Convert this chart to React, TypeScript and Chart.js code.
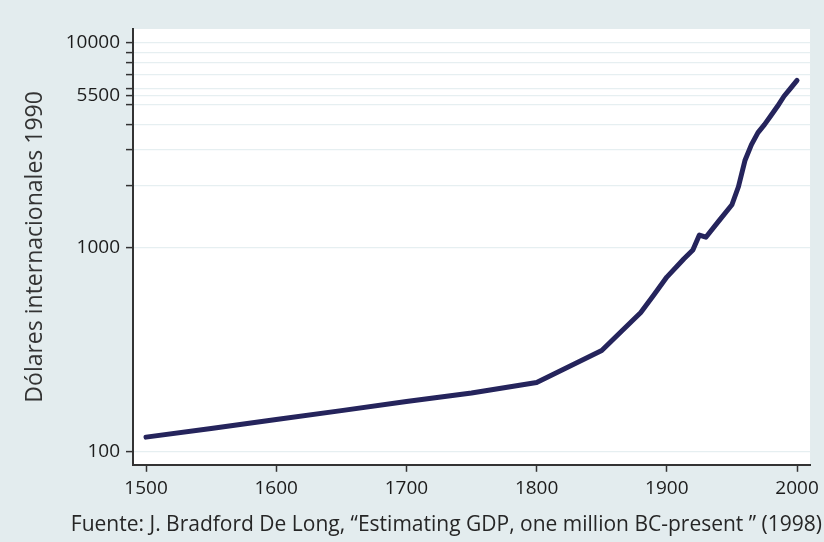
import { useEffect, useRef } from "react";
import { Chart, registerables } from "chart.js";

Chart.register(...registerables);

const years = [1500, 1550, 1600, 1650, 1700, 1750, 1800, 1850, 1880, 1890, 1900, 1913, 1920, 1925, 1930, 1940, 1950, 1955, 1960, 1965, 1970, 1975, 1980, 1985, 1990, 1995, 2000];
const gdp = [118, 130, 144, 159, 176, 194, 218, 313, 480, 585, 715, 877, 970, 1148, 1120, 1346, 1614, 1977, 2655, 3177, 3638, 3980, 4412, 4890, 5475, 5986, 6547];
const xTicks = [1500, 1600, 1700, 1800, 1900, 2000];
const yTicks = [100, 1000, 2000, 3000, 4000, 5000, 5500, 6000, 7000, 8000, 9000, 10000];
const yLabels = [100, 1000, 5500, 10000];
const yTitle = "Dólares internacionales 1990";
const caption = "Fuente: J. Bradford De Long, “Estimating GDP, one million BC-present ” (1998)";

const BG = "#e3ecee";
const FONT = "'Open Sans', 'DejaVu Sans', sans-serif";

export default function App() {
  const ref = useRef<HTMLCanvasElement | null>(null);

  useEffect(() => {
    if (!ref.current) return;
    const plotBg = {
      id: "plotBg",
      beforeDraw(chart: any) {
        const { ctx, chartArea } = chart;
        ctx.save();
        ctx.fillStyle = "#ffffff";
        ctx.fillRect(chartArea.left, chartArea.top, chartArea.right - chartArea.left, chartArea.bottom - chartArea.top);
        ctx.restore();
      },
    };
    const chart = new Chart(ref.current, {
      type: "line",
      data: {
        datasets: [
          {
            data: years.map((y, i) => ({ x: y, y: gdp[i] })),
            borderColor: "#25245c",
            borderWidth: 5,
            pointRadius: 0,
            tension: 0,
            borderCapStyle: "round",
            borderJoinStyle: "round",
          },
        ],
      },
      options: {
        animation: false,
        responsive: false,
        layout: { padding: { top: 29, right: 2, left: 0, bottom: 0 } },
        plugins: {
          legend: { display: false },
          tooltip: { enabled: false },
          title: {
            display: true,
            text: caption,
            position: "bottom",
            align: "end",
            color: "#262626",
            font: { family: FONT, size: 21, weight: "normal" },
            padding: { top: 2, bottom: 4 },
          },
        },
        scales: {
          x: {
            type: "linear",
            min: 1490,
            max: 2010,
            afterBuildTicks: (s: any) => {
              s.ticks = xTicks.map((v) => ({ value: v }));
            },
            afterFit: (s: any) => {
              s.height = 46;
            },
            grid: { drawOnChartArea: false, tickLength: 7, tickColor: "#333", tickWidth: 1.5 },
            border: { color: "#333", width: 2 },
            ticks: {
              color: "#1c1c1c",
              padding: 5,
              maxRotation: 0,
              font: { family: FONT, size: 19 },
              callback: (v: any) => String(v),
            },
          },
          y: {
            type: "logarithmic",
            min: 86.4,
            max: 11675,
            afterBuildTicks: (s: any) => {
              s.ticks = yTicks.map((v) => ({ value: v }));
            },
            afterFit: (s: any) => {
              s.width = 133;
            },
            grid: { color: "#e6eff1", lineWidth: 1.2, tickLength: 7, tickColor: "#333", tickWidth: 1.5 },
            border: { color: "#333", width: 2 },
            ticks: {
              color: "#1c1c1c",
              padding: 6,
              font: { family: FONT, size: 19 },
              autoSkip: false,
              callback: (v: any) => (yLabels.includes(Number(v)) ? String(v) : ""),
            },
            title: {
              display: true,
              text: yTitle,
              color: "#333",
              font: { family: FONT, size: 23 },
              padding: { top: 22, bottom: 0 },
            },
          },
          yRight: {
            type: "linear",
            position: "right",
            display: true,
            afterFit: (s: any) => {
              s.width = 11;
            },
            grid: { display: false },
            ticks: { display: false },
            border: { display: false },
          },
        },
      },
      plugins: [plotBg],
    } as any);
    return () => chart.destroy();
  }, []);

  return (
    <div style={{ position: "absolute", left: 0, top: 0, width: 824, height: 542, background: BG }}>
      <canvas ref={ref} width={824} height={542} style={{ display: "block", width: 824, height: 542 }} />
    </div>
  );
}
